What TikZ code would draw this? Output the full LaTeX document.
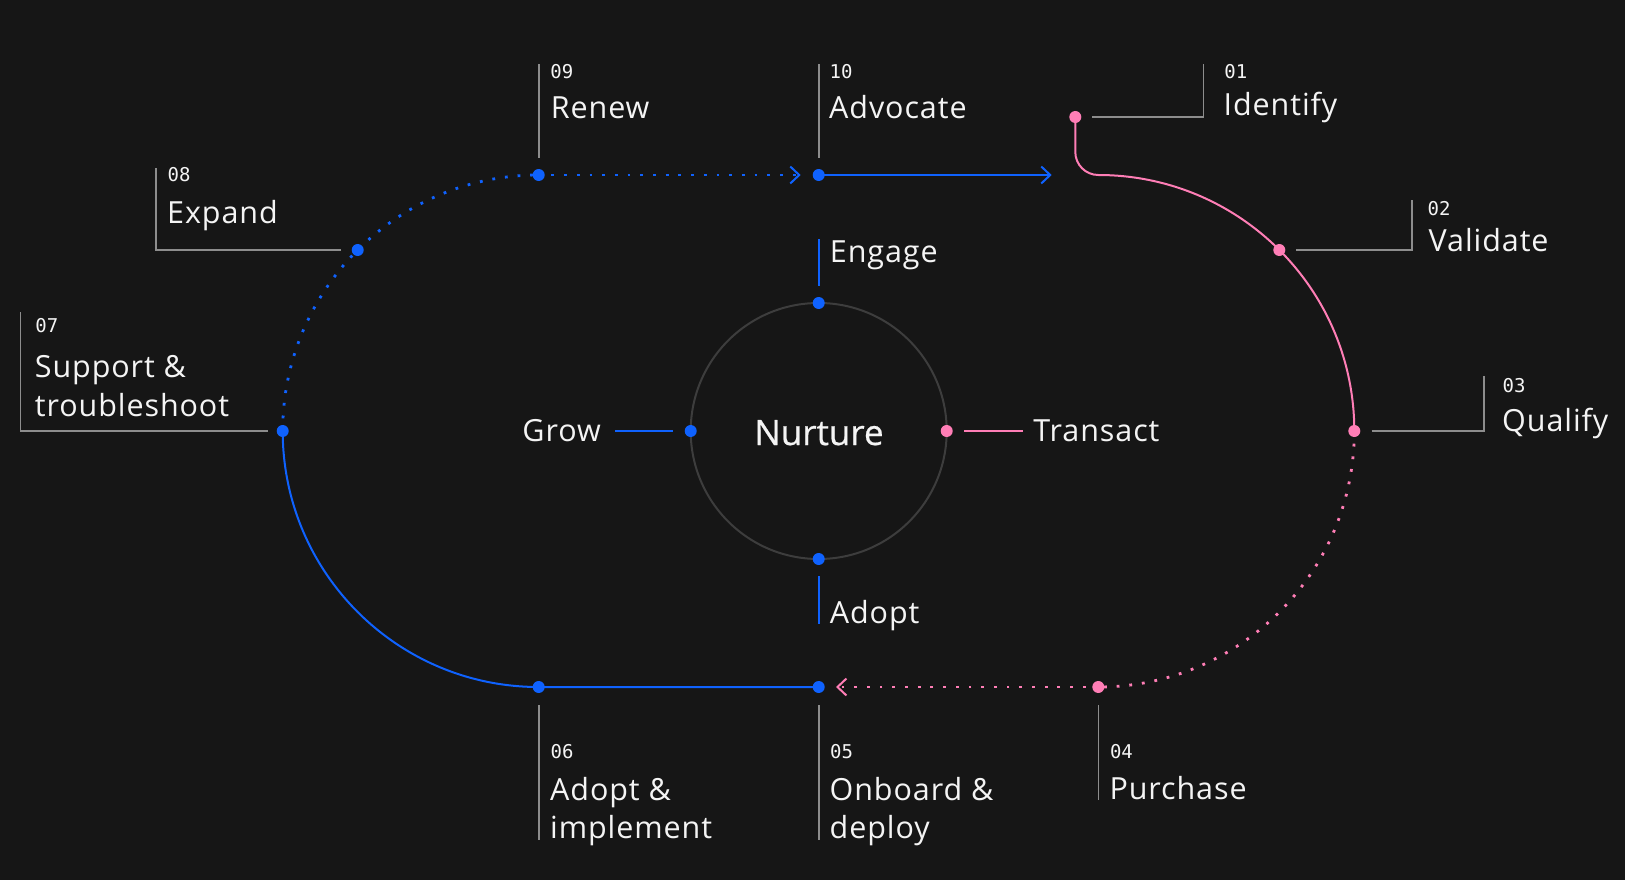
\documentclass[tikz,border=0pt]{standalone}
\usepackage{fontspec}
\setmainfont[LetterSpace=3]{Open Sans}
\newfontfamily\numfont{DejaVu Sans Mono}
\newfontfamily\hubfont[FakeBold=0.6]{Open Sans}
\usepackage{tikz}
\usetikzlibrary{arrows.meta, positioning, backgrounds}
\usepackage{xcolor}
\definecolor{bgc}{HTML}{161616}
\definecolor{cblue}{HTML}{0F62FE}
\definecolor{cpink}{HTML}{FF7EB6}
\definecolor{cgrey}{HTML}{8D8D8D}
\definecolor{cring}{HTML}{3D3D3D}
\definecolor{ctext}{HTML}{F4F4F4}
\tikzstyle{dot} = [circle, inner sep=0pt, outer sep=0pt, minimum size=12pt]
\tikzstyle{bluedot} = [dot, fill=cblue]
\tikzstyle{pinkdot} = [dot, fill=cpink]
\tikzstyle{stage} = [anchor=base west, inner sep=0pt, text=ctext, font=\fontsize{30.5}{38}\selectfont]
\tikzstyle{num} = [anchor=base west, inner sep=0pt, text=ctext, font=\numfont\fontsize{19}{22}\selectfont]
\tikzstyle{bracket} = [draw=cgrey, line width=1.6pt]
\tikzstyle{track} = [line width=2pt]
\tikzstyle{dots} = [line width=2.8pt, dash pattern=on 2.8pt off 9.9pt]
\tikzstyle{tip} = [-{Straight Barb[length=9pt,width=17pt,line width=2pt]}]

\begin{document}
\begin{tikzpicture}[x=1pt, y=-1pt]
        % stages on the track
        \node[pinkdot] (s01) at (1075.3,117) {};
        \node[pinkdot] (s02) at (1279.3,250) {};
        \node[pinkdot] (s03) at (1354.3,431) {};
        \node[pinkdot] (s04) at (1098.3,687) {};
        \node[bluedot] (s05) at (818.7,687) {};
        \node[bluedot] (s06) at (538.7,687) {};
        \node[bluedot] (s07) at (282.7,431) {};
        \node[bluedot] (s08) at (357.7,250) {};
        \node[bluedot] (s09) at (538.7,175) {};
        \node[bluedot] (s10) at (818.7,175) {};
        \coordinate (a05) at (836,687);
        \coordinate (a10) at (800.7,175);
        \coordinate (a01) at (1051.7,175);

        % inner ring
        \node[circle, draw=cring, line width=2pt, minimum size=256pt, inner sep=0pt, outer sep=0pt] (hub) at (818.7,431) {};
        \node[anchor=base, inner sep=0pt, text=ctext, font=\hubfont\fontsize{35}{40}\selectfont] (hubtxt) at (819,445) {Nurture};
        \node[bluedot] (gtop) at (hub.north) {};
        \node[bluedot] (gbot) at (hub.south) {};
        \node[bluedot] (gleft) at (hub.west) {};
        \node[pinkdot] (gright) at (hub.east) {};

        \begin{scope}[on background layer]
        \fill[bgc] (0,0) rectangle (1625,880);
        \draw[track, cpink] (s01.center) -- ++(0,35) arc[start angle=180, end angle=90, radius=23]
            arc[start angle=270, end angle=360, radius=256];
        \draw[cpink, dots] (s03.center) arc[start angle=0, end angle=90, radius=256];
        \draw[cpink, dots, tip] (s04.center) -- (a05);
        \draw[track, cblue] (s05.center) -- (s06.center) arc[start angle=90, end angle=180, radius=256];
        \draw[cblue, dots] (s07.center) arc[start angle=180, end angle=270, radius=256];
        \draw[cblue, dots, tip] (s09.center) -- (a10);
        \draw[track, cblue, tip] (s10.center) -- (a01);

        % leader lines
        \draw[bracket] (s01.center) ++(17,0) -| ++(111,-53);
        \draw[bracket] (s02.center) ++(16.7,0) -| ++(116,-50);
        \draw[bracket] (s03.center) ++(17.4,0) -| ++(112,-55);
        \draw[bracket] (s04.center) ++(0,18) -- ++(0,95);
        \draw[bracket] (s05.center) ++(0,18) -- ++(0,135);
        \draw[bracket] (s06.center) ++(0,18) -- ++(0,135);
        \draw[bracket] (s07.center) ++(-15,0) -| ++(-247.4,-119);
        \draw[bracket] (s08.center) ++(-16.7,0) -| ++(-185,-82);
        \draw[bracket] (s09.center) ++(0,-17.3) -- ++(0,-93.4);
        \draw[bracket] (s10.center) ++(0,-17.3) -- ++(0,-93.4);
        \draw[track, cblue] (gtop.center) ++(0,-17) -- ++(0,-47);
        \draw[track, cblue] (gbot.center) ++(0,17) -- ++(0,48);
        \draw[track, cblue] (gleft.center) ++(-18,0) -- ++(-57.6,0);
        \draw[track, cpink] (gright.center) ++(17.3,0) -- ++(58.6,0);
        \end{scope}

        % labels
        \node[num] (n01) at (1224.2,78.3) {01};
        \node[stage] (t01) at (1223.5,115.7) {Identify};
        \node[num] (n02) at (1427.5,215) {02};
        \node[stage] (t02) at (1428.5,251.7) {Validate};
        \node[num] (n03) at (1502.5,392.3) {03};
        \node[stage] (t03) at (1502,431) {Qualify};
        \node[num] (n04) at (1109.8,758.3) {04};
        \node[stage] (t04) at (1109.3,799.3) {Purchase};
        \node[num] (n05) at (830,758.3) {05};
        \node[stage] (t05) at (829.5,800) {Onboard \&};
        \node[stage] (t05b) at (829.5,838) {deploy};
        \node[num] (n06) at (550.5,758.3) {06};
        \node[stage] (t06) at (550,800) {Adopt \&};
        \node[stage] (t06b) at (550,838) {implement};
        \node[num] (n07) at (35.2,332.3) {07};
        \node[stage] (t07) at (34.7,377.3) {Support \&};
        \node[stage] (t07b) at (34.7,416) {troubleshoot};
        \node[num] (n08) at (167.5,181) {08};
        \node[stage] (t08) at (167,223.3) {Expand};
        \node[num] (n09) at (550.2,78.3) {09};
        \node[stage] (t09) at (550.7,119) {Renew};
        \node[num] (n10) at (829.5,78.3) {10};
        \node[stage] (t10) at (829,119) {Advocate};

        \node[stage] (eng) at (829.7,262.3) {Engage};
        \node[stage] (adp) at (829.7,623.3) {Adopt};
        \node[stage, anchor=base east] (grw) at (601,441.7) {Grow};
        \node[stage] (trn) at (1033.2,441.7) {Transact};
    \end{tikzpicture}
\end{document}
